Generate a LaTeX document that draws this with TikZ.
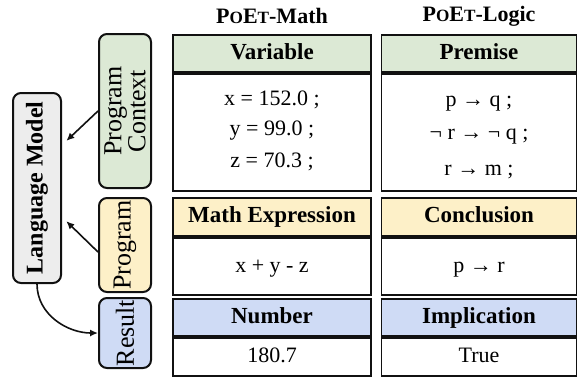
\documentclass[tikz,border=0pt]{standalone}
\usepackage{fontspec}
\setmainfont{Liberation Serif}
\usepackage{tikz}
\usetikzlibrary{arrows.meta,positioning,calc}
\definecolor{Ink}{HTML}{111111}
\definecolor{LMGray}{HTML}{EDEDED}
\definecolor{CtxGreen}{HTML}{DCE9D5}
\definecolor{ProgYellow}{HTML}{FDF0C8}
\definecolor{ResBlue}{HTML}{CFDBF5}
\newcommand{\smc}[1]{{\fontsize{8.6}{10}\selectfont #1}}
\tikzset{
  sidebox/.style={draw=Ink,line width=1pt,rounded corners=4pt,rotate=90,minimum height=26pt,inner sep=0pt,align=center,font=\fontsize{13}{13}\selectfont},
  headcell/.style={draw=Ink,line width=0.9pt,anchor=north,minimum height=18.5pt,inner sep=0pt,text height=0.7em,text depth=0.1em,font=\bfseries\fontsize{11.5}{13}\selectfont},
  bodycell/.style={draw=Ink,line width=0.9pt,anchor=north,fill=white,inner sep=0pt,text height=0.7em,text depth=0.1em,font=\fontsize{11}{13}\selectfont},
  bodytext/.style={font=\fontsize{11}{13}\selectfont},
  coltitle/.style={font=\bfseries\fontsize{11}{13}\selectfont},
  arrow/.style={-{Latex[length=4pt,width=3.6pt]},line width=0.8pt,draw=Ink}
}
\begin{document}
\begin{tikzpicture}[x=0.5pt,y=-0.5pt]
  \useasboundingbox[fill=white] (0,0) rectangle (578,377);
  % language model and the three parts (rotated: north is the left side)
  \node[sidebox,fill=LMGray,minimum width=95pt,minimum height=24pt,font=\bfseries\fontsize{12}{12}\selectfont] (lm) at (37,188) {Language Model};
  \node[sidebox,fill=CtxGreen,minimum width=77pt,font=\fontsize{13}{12}\selectfont] (pctx) at (125,111) {Program\\Context};
  \node[sidebox,fill=ProgYellow,minimum width=47pt] (prog) at (125,245) {Program};
  \node[sidebox,fill=ResBlue,minimum width=35pt] (res) at (125,333) {Result};
  % arrows
  \draw[arrow,shorten >=3pt] (pctx.north) -- ([yshift=21.5pt]lm.south);
  \draw[arrow,shorten >=3pt] ([yshift=-3.5pt]prog.north) -- ([yshift=-14.5pt]lm.south);
  \draw[arrow] (lm.west) to[out=-90,in=180] (res.north);
  % POET-Math
  \node[coltitle] (tmath) at (272,16) {P\smc{O}E\smc{T}-Math};
  \node[headcell,fill=CtxGreen,minimum width=99pt] (var) at (272,34) {Variable};
  \node[bodycell,minimum width=99pt,minimum height=58.5pt] (varbody) at (var.south) {};
  \node[bodytext] (x) at (272,100) {x = 152.0 ;};
  \node[bodytext] (y) at (272,131) {y = 99.0 ;};
  \node[bodytext] (z) at (272,162) {z = 70.3 ;};
  \node[headcell,fill=ProgYellow,minimum width=99pt,minimum height=19pt] (expr) at (272,197) {Math Expression};
  \node[bodycell,minimum width=99pt,minimum height=28.5pt] (exprbody) at (expr.south) {x + y - z};
  \node[headcell,fill=ResBlue,minimum width=99pt] (num) at (272,298) {Number};
  \node[bodycell,minimum width=99pt,minimum height=19pt] (numbody) at (num.south) {180.7};
  % POET-Logic
  \node[coltitle] (tlogic) at (479,16) {P\smc{O}E\smc{T}-Logic};
  \node[headcell,fill=CtxGreen,minimum width=97.5pt] (prem) at (479,34) {Premise};
  \node[bodycell,minimum width=97.5pt,minimum height=58.5pt] (prembody) at (prem.south) {};
  \node[bodytext] (p1) at (479,104) {p → q ;};
  \node[bodytext] (p2) at (479,137) {¬ r → ¬ q ;};
  \node[bodytext] (p3) at (479,172) {r → m ;};
  \node[headcell,fill=ProgYellow,minimum width=97.5pt,minimum height=19pt] (concl) at (479,197) {Conclusion};
  \node[bodycell,minimum width=97.5pt,minimum height=28.5pt] (conclbody) at (concl.south) {p → r};
  \node[headcell,fill=ResBlue,minimum width=97.5pt] (impl) at (479,298) {Implication};
  \node[bodycell,minimum width=97.5pt,minimum height=19pt] (implbody) at (impl.south) {True};
\end{tikzpicture}
\end{document}
